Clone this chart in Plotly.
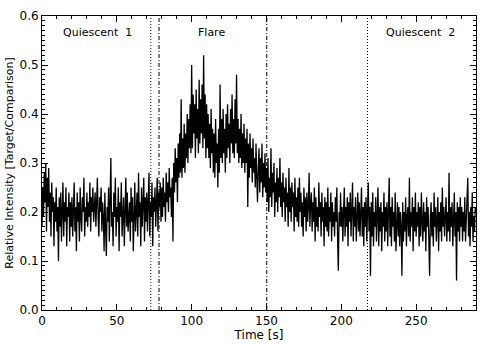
import numpy as np
import plotly.graph_objects as go

# Sampling cadence of the light curve (s)
cadence = 0.5

# Relative intensity (Target/Comparison), 0.5 s steps from t=0 to t=290
intensity = [
    0.17,0.25,0.19,0.28,0.22,0.30,0.16,0.27,0.21,0.29,0.18,0.24,0.15,0.26,0.20,0.23,0.13,0.22,0.18,0.25,
    0.16,0.21,0.10,0.23,0.17,0.24,0.14,0.20,0.26,0.15,0.22,0.18,0.25,0.13,0.21,0.19,0.24,0.14,0.22,0.17,
    0.23,0.15,0.20,0.26,0.16,0.21,0.12,0.24,0.18,0.22,0.14,0.25,0.19,0.16,0.23,0.20,0.27,0.15,0.21,0.18,
    0.24,0.17,0.22,0.19,0.26,0.16,0.23,0.20,0.25,0.18,0.21,0.24,0.17,0.22,0.27,0.19,0.15,0.23,0.20,0.25,
    0.16,0.22,0.19,0.12,0.24,0.17,0.11,0.21,0.18,0.25,0.14,0.22,0.31,0.17,0.20,0.13,0.24,0.19,0.27,0.15,
    0.21,0.18,0.25,0.12,0.22,0.19,0.26,0.15,0.20,0.23,0.13,0.21,0.27,0.17,0.24,0.16,0.19,0.22,0.14,0.25,
    0.18,0.23,0.12,0.21,0.26,0.16,0.20,0.24,0.15,0.28,0.19,0.22,0.13,0.25,0.17,0.21,0.27,0.14,0.23,0.18,
    0.24,0.16,0.21,0.28,0.15,0.22,0.19,0.26,0.13,0.23,0.20,0.25,0.17,0.22,0.27,0.16,0.24,0.21,0.26,0.18,
    0.25,0.19,0.27,0.21,0.24,0.18,0.28,0.22,0.26,0.20,0.29,0.23,0.25,0.19,0.27,0.14,0.30,0.24,0.33,0.26,
    0.31,0.22,0.34,0.27,0.36,0.28,0.43,0.27,0.35,0.29,0.38,0.28,0.36,0.31,0.40,0.30,0.39,0.33,0.42,0.32,
    0.50,0.33,0.44,0.36,0.42,0.31,0.45,0.35,0.41,0.32,0.47,0.34,0.43,0.36,0.46,0.33,0.52,0.35,0.44,0.31,
    0.42,0.33,0.40,0.31,0.38,0.29,0.41,0.32,0.37,0.28,0.36,0.27,0.39,0.30,0.34,0.25,0.37,0.28,0.46,0.31,
    0.39,0.30,0.41,0.32,0.37,0.28,0.40,0.31,0.42,0.33,0.38,0.30,0.41,0.34,0.44,0.32,0.39,0.31,0.43,0.34,
    0.48,0.32,0.39,0.30,0.37,0.31,0.40,0.29,0.36,0.30,0.38,0.28,0.35,0.30,0.37,0.21,0.34,0.27,0.36,0.29,
    0.33,0.26,0.35,0.28,0.31,0.25,0.34,0.27,0.22,0.29,0.33,0.24,0.31,0.26,0.34,0.23,0.30,0.25,0.32,0.24,
    0.29,0.22,0.31,0.20,0.27,0.23,0.33,0.21,0.28,0.24,0.30,0.19,0.26,0.22,0.29,0.20,0.27,0.23,0.31,0.21,
    0.26,0.19,0.28,0.22,0.25,0.18,0.27,0.21,0.24,0.17,0.29,0.20,0.25,0.18,0.26,0.21,0.24,0.16,0.27,0.19,
    0.23,0.18,0.25,0.17,0.27,0.20,0.24,0.17,0.22,0.15,0.25,0.19,0.23,0.16,0.24,0.18,0.21,0.28,0.17,0.22,
    0.24,0.16,0.22,0.18,0.25,0.14,0.23,0.17,0.21,0.16,0.26,0.19,0.22,0.15,0.24,0.18,0.21,0.13,0.23,0.17,
    0.22,0.16,0.25,0.15,0.21,0.18,0.24,0.14,0.22,0.17,0.20,0.15,0.23,0.18,0.25,0.15,0.08,0.20,0.17,0.24,
    0.17,0.21,0.14,0.20,0.25,0.15,0.21,0.17,0.23,0.13,0.22,0.18,0.24,0.15,0.20,0.26,0.14,0.21,0.17,0.23,
    0.14,0.20,0.24,0.16,0.22,0.15,0.19,0.25,0.15,0.21,0.13,0.22,0.17,0.23,0.14,0.20,0.26,0.16,0.21,0.07,
    0.22,0.15,0.24,0.13,0.20,0.17,0.23,0.14,0.19,0.25,0.13,0.21,0.16,0.22,0.12,0.20,0.17,0.24,0.14,0.21,
    0.16,0.22,0.13,0.19,0.27,0.15,0.21,0.13,0.23,0.17,0.20,0.14,0.24,0.12,0.19,0.22,0.15,0.21,0.13,0.20,
    0.17,0.07,0.22,0.14,0.20,0.16,0.23,0.13,0.19,0.21,0.15,0.27,0.14,0.20,0.17,0.23,0.12,0.21,0.16,0.24,
    0.15,0.20,0.17,0.22,0.13,0.21,0.15,0.24,0.18,0.14,0.22,0.16,0.20,0.12,0.23,0.17,0.21,0.14,0.07,0.19,
    0.22,0.15,0.20,0.13,0.24,0.17,0.21,0.14,0.19,0.23,0.12,0.20,0.16,0.22,0.14,0.25,0.17,0.21,0.15,0.19,
    0.23,0.14,0.20,0.16,0.28,0.14,0.21,0.17,0.22,0.13,0.19,0.24,0.15,0.20,0.06,0.22,0.16,0.21,0.14,0.23,
    0.17,0.21,0.14,0.20,0.16,0.23,0.14,0.19,0.22,0.27,0.15,0.20,0.13,0.21,0.17,0.24,0.14,0.19,0.16,0.21,
    0.20,
]
time = np.arange(len(intensity)) * cadence

# Boundary markers (s)
dotted_lines = [72.7, 217.5]
dashdot_lines = [78.2, 150.2]

# Region labels
region_names = ["Quiescent  1", "Flare", "Quiescent  2"]
region_x = [37, 113, 253]
region_y = 0.566

FONT = "DejaVu Sans, sans-serif"

fig = go.Figure()
fig.add_trace(go.Scatter(x=time, y=intensity, mode="lines",
                         line=dict(color="black", width=1.3), showlegend=False))

for xv in dotted_lines:
    fig.add_shape(type="line", x0=xv, x1=xv, y0=0, y1=1, xref="x", yref="paper",
                  line=dict(color="black", width=1, dash="1px,2px"))
for xv in dashdot_lines:
    fig.add_shape(type="line", x0=xv, x1=xv, y0=0, y1=1, xref="x", yref="paper",
                  line=dict(color="black", width=1, dash="4px,2px,1px,2px"))

for name, xv in zip(region_names, region_x):
    fig.add_annotation(x=xv, y=region_y, text=name.replace("  ", "&nbsp; "), showarrow=False,
                       font=dict(family=FONT, size=11, color="black"))

axis_common = dict(showline=True, linecolor="black", linewidth=1, mirror="allticks",
                   ticks="inside", tickcolor="black", tickwidth=1, ticklen=6,
                   showgrid=False, zeroline=False,
                   tickfont=dict(family=FONT, size=12, color="black"))

fig.update_xaxes(range=[0, 290], dtick=50, tick0=0,
                 minor=dict(dtick=10, ticks="inside", ticklen=3, tickcolor="black"),
                 title=dict(text="Time [s]", font=dict(family=FONT, size=12, color="black"), standoff=1),
                 **axis_common)
fig.update_yaxes(range=[0, 0.6], dtick=0.1, tick0=0, tickformat=".1f",
                 minor=dict(dtick=0.01, ticks="inside", ticklen=3, tickcolor="black"),
                 title=dict(text="Relative Intensity [Target/Comparison]",
                            font=dict(family=FONT, size=11, color="black"), standoff=3),
                 **axis_common)

fig.update_layout(width=480, height=344, plot_bgcolor="white", paper_bgcolor="white",
                  margin=dict(l=42, r=4, t=16, b=34))

fig.write_html("out.html")
